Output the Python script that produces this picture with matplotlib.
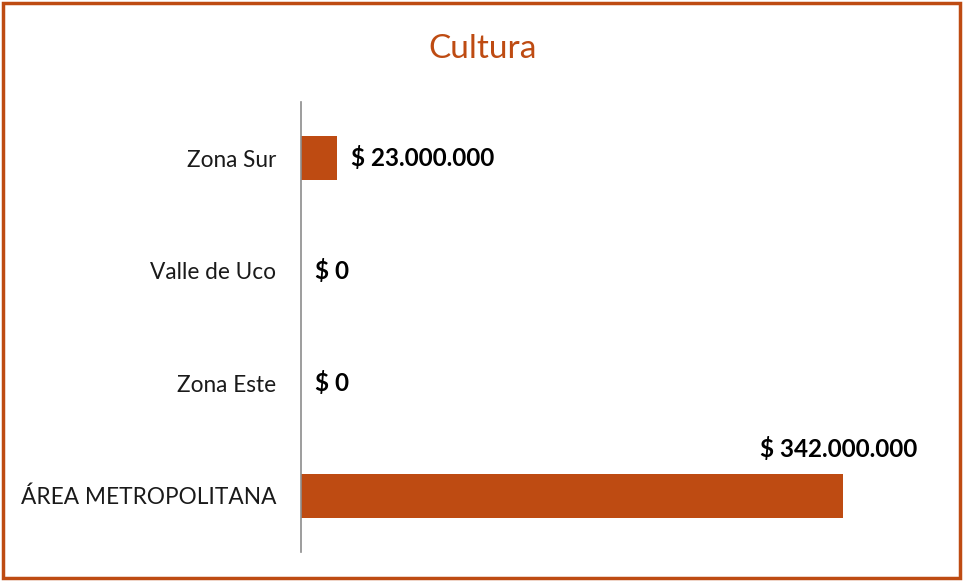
import matplotlib
matplotlib.use('Agg')
import matplotlib.pyplot as plt
from matplotlib.patches import Rectangle

# data
categories = ['ÁREA METROPOLITANA', 'Zona Este', 'Valle de Uco', 'Zona Sur']
values = [342000000, 0, 0, 23000000]
value_labels = ['$ 342.000.000', '$ 0', '$ 0', '$ 23.000.000']

orange = '#BE4B12'
plt.rcParams['font.family'] = ['Lato', 'DejaVu Sans']

fig = plt.figure(figsize=(9.63, 5.81), dpi=100)
ax = fig.add_axes([301/963, 1 - 552/581, 639/963, 450/581])

y = range(len(categories))
ax.barh(y, values, height=0.39, color=orange)
ax.set_ylim(-0.5, 3.5)
ax.set_xlim(0, 342000000 * 639 / 542)

ax.set_yticks(list(y))
ax.set_yticklabels(categories, fontsize=16.3, color='#1a1a1a')
ax.tick_params(axis='y', length=0, pad=18)
ax.set_xticks([])
for s in ['top', 'right', 'bottom']:
    ax.spines[s].set_visible(False)
ax.spines['left'].set_color('#8c8c8c')
ax.spines['left'].set_linewidth(1.2)

# value labels
for i, (v, lab) in enumerate(zip(values, value_labels)):
    if v > 300000000:
        ax.annotate(lab, (v, i + 0.2), xytext=(-3, 9), textcoords='offset points',
                    ha='center', va='bottom', fontsize=17.5, fontweight='bold', color='black')
    else:
        ax.annotate(lab, (v, i), xytext=(10, 0), textcoords='offset points',
                    ha='left', va='center', fontsize=17.5, fontweight='bold', color='black')

fig.text(483/963, 1 - 49/581, 'Cultura', ha='center', va='center', fontsize=24, color=orange)

fig.patches.append(Rectangle((3/963, 3/581), 957/963, 575/581, transform=fig.transFigure,
                             fill=False, edgecolor=orange, linewidth=2.5))

fig.savefig('out.png', dpi=100)
